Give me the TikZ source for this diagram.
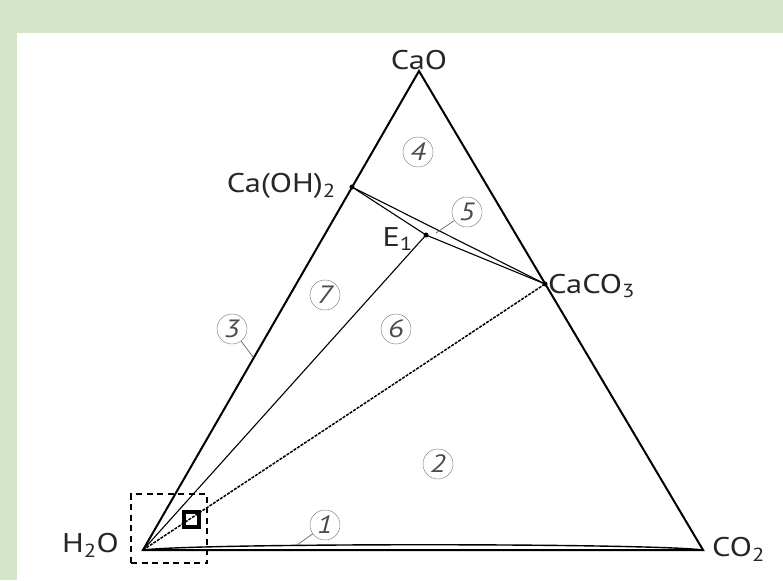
\documentclass[tikz,border=0pt]{standalone}
\usepackage{fontspec}
\setmainfont{PT Sans}[FakeStretch=1.2]
\definecolor{bgGreen}{RGB}{213,230,200}
\begin{document}
\begin{tikzpicture}[x=1pt, y=-1pt,
    sideStyle/.style={line width=2pt, line join=miter},
    tieStyle/.style={line width=1.1pt},
    dashTieStyle/.style={line width=1.5pt, dash pattern=on 3pt off 1.2pt},
    boxStyle/.style={draw, line width=2pt, dash pattern=on 6pt off 4.5pt, inner sep=0pt},
    numStyle/.style={draw=black!55, circle, inner sep=0pt, minimum size=30pt, text=black!70,
        font=\itshape\fontsize{25}{25}\selectfont},
    labelStyle/.style={inner sep=1pt, text=black!85, font=\fontsize{27}{27}\selectfont},
    dotStyle/.style={circle, fill, inner sep=0pt, minimum size=5pt},
    leaderStyle/.style={line width=0.7pt, black!60}]

    % background and white panel
    \fill[bgGreen] (0,0) rectangle (783,580);
    \fill[white] (17,33) rectangle (783,580);
    \useasboundingbox (0,0) rectangle (783,580);

    % corners and points of the diagram
    \coordinate (h2o) at (143,550);
    \coordinate (co2) at (703,550);
    \coordinate (cao) at (419,71);
    \coordinate (caoh) at (352,187);
    \coordinate (caco) at (545,284);
    \coordinate (e1) at (426,235);

    % phase lines
    \draw[tieStyle] (caoh) -- (caco);
    \draw[tieStyle] (caoh) -- (e1) -- (caco);
    \draw[tieStyle] (h2o) -- (e1);
    \draw[dashTieStyle] (h2o) -- (caco);
    \draw[line width=1.4pt] (h2o) .. controls (200,543) and (650,543) .. (co2);
    \draw[sideStyle] (h2o) -- (cao) -- (co2) -- cycle;

    \node[dotStyle] (dotOH) at (caoh) {};
    \node[dotStyle] (dotE) at (e1) {};
    \node[dotStyle] (dotCO) at (caco) {};

    % labels
    \node[labelStyle, above] (labCaO) at (cao) {CaO};
    \node[labelStyle, anchor=east] (labCaOH) at (337,186) {Ca(OH)\textsubscript{2}};
    \node[labelStyle, anchor=east] (labE) at (414,239) {E\textsubscript{1}};
    \node[labelStyle, anchor=west] (labCaCO) at (547,286) {CaCO\textsubscript{3}};
    \node[labelStyle, anchor=east] (labH) at (120,545) {H\textsubscript{2}O};
    \node[labelStyle, anchor=west] (labCO) at (711,549) {CO\textsubscript{2}};

    % region numbers
    \node[numStyle] (n1) at (325,525) {1};
    \node[numStyle] (n2) at (438,464) {2};
    \node[numStyle] (n3) at (232,329) {3};
    \node[numStyle] (n4) at (418,152) {4};
    \node[numStyle] (n5) at (467,212) {5};
    \node[numStyle] (n6) at (396,329) {6};
    \node[numStyle] (n7) at (325,295) {7};

    \coordinate (p1) at (297,545);
    \coordinate (p3) at (253,357);
    \coordinate (p5) at (436,233);
    \draw[leaderStyle] (n1) -- (p1);
    \draw[leaderStyle] (n3) -- (p3);
    \draw[leaderStyle] (n5) -- (p5);

    % zoom window near H2O
    \node[boxStyle, minimum width=76pt, minimum height=69pt] (zoomBox) at (169,528.5) {};
    \node[draw, line width=3.5pt, inner sep=0pt, minimum size=15pt] (spot) at (191.5,519.5) {};
\end{tikzpicture}
\end{document}
